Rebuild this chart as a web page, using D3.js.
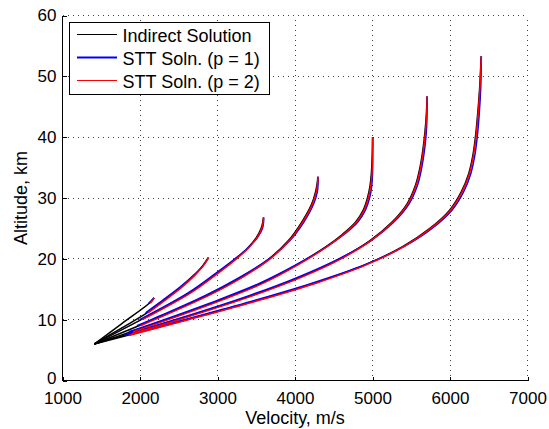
<!DOCTYPE html>
<html><head><meta charset="utf-8">
<script src="https://cdn.jsdelivr.net/npm/d3@7"></script>
<style>
body{margin:0;background:#fff}
svg{display:block}
text{font-family:"Liberation Sans",Arial,Helvetica,sans-serif;fill:#000}
</style>
</head><body>
<svg id="chart" width="549" height="429"></svg>
<script>
// ---------- data ----------
const xTicks = [1000, 2000, 3000, 4000, 5000, 6000, 7000];
const yTicks = [0, 10, 20, 30, 40, 50, 60];
const seriesNames = ["Indirect Solution", "STT Soln. (p = 1)", "STT Soln. (p = 2)"];
const seriesColors = ["#000000", "#0000ff", "#ff0000"];

// altitude samples (km) for each of the 7 trajectories
const altitude = [
  [6.0, 9.4, 12.7, 13.2, 13.6],
  [6.0, 8.5, 11.1, 13.1, 15.3, 17.4, 18.8, 20.2],
  [6.0, 10.0, 14.4, 17.7, 20.0, 21.75, 23.5, 25.0, 26.0, 26.8],
  [6.0, 9.0, 10.0, 14.0, 17.0, 20.0, 23.0, 26.0, 29.0, 31.0, 32.5, 33.5],
  [6.0, 8.0, 10.0, 13.3, 16.0, 19.0, 22.0, 24.0, 26.0, 28.0, 30.0, 32.0, 34.0, 37.0, 40.0],
  [6.0, 7.7, 10.0, 14.0, 17.0, 20.0, 23.0, 26.0, 29.0, 32.0, 35.0, 38.0, 41.0, 44.0, 46.7],
  [6.0, 7.4, 10.0, 13.0, 16.0, 19.0, 22.0, 25.0, 28.0, 31.0, 34.0, 37.0, 40.0, 44.0, 48.0, 53.3]
];
// velocity (m/s) – Indirect Solution
const velIndirect = [
  [1410, 1770, 2120, 2155, 2180],
  [1410, 1745, 2090, 2300, 2525, 2705, 2805, 2880],
  [1410, 2015, 2640, 3000, 3232, 3386, 3500, 3562, 3584, 3592],
  [1410, 1985, 2170, 2870, 3310, 3665, 3915, 4085, 4215, 4265, 4287, 4295],
  [1410, 1885, 2340, 3050, 3570, 4020, 4400, 4610, 4780, 4880, 4935, 4968, 4985, 4996, 5000],
  [1410, 1870, 2478, 3446, 4067, 4577, 4967, 5249, 5444, 5552, 5612, 5651, 5678, 5696, 5703],
  [1410, 1830, 2600, 3462, 4249, 4901, 5388, 5740, 5995, 6145, 6241, 6295, 6328, 6358, 6382, 6402]
];
// velocity (m/s) – STT Soln. (p = 1)
const velSTT1 = [
  [null, null, 2112, 2152, 2182],
  [null, null, 2072, 2283, 2512, 2702, 2810, 2886],
  [null, 1995, 2620, 2985, 3225, 3390, 3515, 3580, 3594, 3596],
  [null, 1960, 2145, 2845, 3290, 3665, 3935, 4112, 4240, 4288, 4298, 4299],
  [null, 1855, 2310, 3020, 3545, 4010, 4410, 4632, 4808, 4908, 4962, 4990, 5000, 5003, 5004],
  [null, 1840, 2448, 3416, 4040, 4565, 4982, 5272, 5470, 5578, 5635, 5672, 5695, 5704, 5706],
  [null, 1800, 2570, 3432, 4220, 4895, 5405, 5768, 6025, 6175, 6268, 6320, 6351, 6378, 6396, 6405]
];
// velocity (m/s) – STT Soln. (p = 2)
const velSTT2 = [
  [null, null, 2132, 2164, 2184],
  [null, null, 2102, 2313, 2537, 2716, 2814, 2884],
  [null, 2030, 2655, 3014, 3245, 3398, 3510, 3571, 3589, 3595],
  [null, 2005, 2190, 2890, 3327, 3680, 3928, 4096, 4225, 4274, 4293, 4298],
  [null, 1910, 2365, 3075, 3592, 4038, 4415, 4623, 4792, 4891, 4945, 4977, 4993, 5001, 5003],
  [null, 1895, 2503, 3470, 4088, 4595, 4981, 5260, 5454, 5561, 5620, 5658, 5684, 5700, 5705],
  [null, 1855, 2625, 3487, 4272, 4920, 5402, 5752, 6006, 6155, 6250, 6303, 6335, 6364, 6386, 6404]
];

// ---------- chart ----------
const svg = d3.select("#chart");
const x = d3.scaleLinear().domain([1000, 7000]).range([62.5, 527.5]);
const y = d3.scaleLinear().domain([0, 60]).range([380.5, 15.5]);
const plotL = x.range()[0], plotR = x.range()[1], plotT = y.range()[1], plotB = y.range()[0];

// grid (dotted)
const grid = svg.append("g").attr("stroke", "#000").attr("stroke-width", 1)
  .attr("stroke-dasharray", "1,4").attr("stroke-opacity", 0.75).attr("shape-rendering", "crispEdges");
grid.selectAll("line.gx").data(xTicks.slice(1)).join("line")
  .attr("x1", d => x(d)).attr("x2", d => x(d)).attr("y1", plotB).attr("y2", plotT);
grid.selectAll("line.gy").data(yTicks.slice(1)).join("line")
  .attr("y1", d => y(d)).attr("y2", d => y(d)).attr("x1", plotL).attr("x2", plotR);

// curves
const series = [velIndirect, velSTT1, velSTT2];
const line = d3.line().x(d => x(d[0])).y(d => y(d[1])).curve(d3.curveCatmullRom.alpha(0.5));
const curves = svg.append("g").attr("fill", "none").attr("stroke-linejoin", "round").attr("stroke-linecap", "butt");
series.forEach((vel, s) => {
  vel.forEach((vs, k) => {
    const pts = vs.map((v, i) => [v, altitude[k][i]]).filter(p => p[0] != null);
    curves.append("path").datum(pts).attr("d", line)
      .attr("stroke", seriesColors[s]).attr("stroke-width", 1.5);
  });
});

// axes (left & bottom, ticks inward)
const xAxis = d3.axisBottom(x).tickValues(xTicks).tickSize(-4).tickPadding(11.4).tickFormat(d3.format("d"));
const yAxis = d3.axisLeft(y).tickValues(yTicks).tickSize(-4).tickPadding(6).tickFormat(d3.format("d"));
const gx = svg.append("g").attr("transform", `translate(0,${plotB})`).call(xAxis);
const gy = svg.append("g").attr("transform", `translate(${plotL},0)`).call(yAxis);
[gx, gy].forEach(g => {
  g.select(".domain").attr("stroke", "#000").attr("shape-rendering", "crispEdges");
  g.selectAll(".tick line").attr("stroke", "#000").attr("shape-rendering", "crispEdges");
  g.selectAll(".tick text").attr("font-size", 17).attr("font-family", "Liberation Sans, Arial, sans-serif").attr("fill", "#000");
});
gy.selectAll(".tick text").attr("dy", d => d === 0 ? "0.2em" : "0.32em");
gx.select(".domain").attr("d", `M${plotL},0H${plotR}`);
gy.select(".domain").attr("d", `M0,${plotB}V${plotT}`);

// axis labels
svg.append("text").attr("x", (plotL + plotR) / 2).attr("y", 424)
  .attr("text-anchor", "middle").attr("font-size", 18).text("Velocity, m/s");
svg.append("text").attr("transform", `translate(27,${(plotT + plotB) / 2}) rotate(-90)`)
  .attr("text-anchor", "middle").attr("font-size", 18).text("Altitude, km");

// legend
const leg = svg.append("g");
leg.append("rect").attr("x", 69.5).attr("y", 22.5).attr("width", 200).attr("height", 71.5)
  .attr("fill", "#fff").attr("stroke", "#000").attr("stroke-width", 1).attr("shape-rendering", "crispEdges");
const legRowY = [34.5, 57.5, 80.5];
const legWidths = [1, 2, 1.2];
seriesNames.forEach((name, i) => {
  leg.append("line").attr("x1", 77).attr("x2", 117).attr("y1", legRowY[i]).attr("y2", legRowY[i])
    .attr("stroke", seriesColors[i]).attr("stroke-width", legWidths[i]);
  leg.append("text").attr("x", 122.5).attr("y", legRowY[i] + 7.5).attr("font-size", 18).text(name);
});
</script>
</body></html>
